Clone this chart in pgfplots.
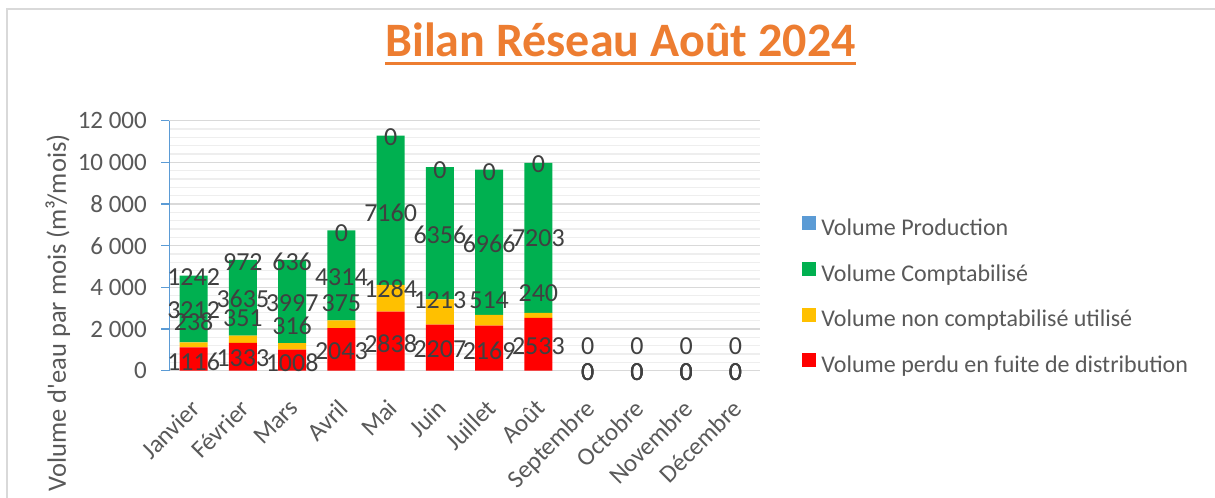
\documentclass[border=0pt]{standalone}
\usepackage{fontspec}
\setmainfont{Carlito}
\usepackage{pgfplots}
\usepackage{pgfplotstable}
\pgfplotsset{compat=1.18}
\definecolor{cred}{HTML}{FF0000}
\definecolor{cyel}{HTML}{FFC000}
\definecolor{cgrn}{HTML}{00B050}
\definecolor{cblu}{HTML}{5B9BD5}
\definecolor{txt}{HTML}{595959}
\definecolor{lbl}{HTML}{404040}
\definecolor{gmaj}{HTML}{D9D9D9}
\definecolor{gmin}{HTML}{EEEEEE}
\definecolor{ttl}{HTML}{ED7D31}

\pgfplotstableread{
x red yel grn
0 1116 238 3212
1 1333 351 3635
2 1008 316 3997
3 2043 375 4314
4 2838 1284 7160
5 2207 1213 6356
6 2169 514 6966
7 2533 240 7203
8 0 0 0
9 0 0 0
10 0 0 0
11 0 0 0
}\bars

\pgfplotstableread{
x y lab
0 432 1116
0 2352 238
0 2913 3212
0 4512 1242
1 595 1333
1 2515 351
1 3427 3635
1 5233 972
2 384 1008
2 2146 316
2 3235 3997
2 5233 636
3 960 2043
3 3264 375
3 4512 4314
3 6625 0
4 1281 2838
4 3955 1284
4 7584 7160
4 11200 0
5 1027 2207
5 3393 1213
5 6513 6356
5 9633 0
6 960 2169
6 3393 514
6 6081 6966
6 9553 0
7 1185 2533
7 3745 240
7 6355 7203
7 9923 0
8 1185 0
8 -50 0
8 -50 0
8 -50 0
9 1185 0
9 -50 0
9 -50 0
9 -50 0
10 1185 0
10 -50 0
10 -50 0
10 -50 0
11 1185 0
11 -50 0
11 -50 0
11 -50 0
}\labels

\newcommand\fs{\fontsize{25bp}{30bp}\selectfont}
\newcommand\fl{\fontsize{26bp}{30bp}\selectfont}
\newcommand\fg{\fontsize{24bp}{28bp}\selectfont}
\newcommand\ts{\kern0.226em}

\begin{document}
\begin{tikzpicture}
\useasboundingbox (0,0) rectangle (1215bp,498bp);
\fill[white] (0,0) rectangle (1215bp,498bp);
\draw[gmaj, line width=1.5bp] (7bp,0) -- (7bp,489bp) -- (1215bp,489bp);
\node[font=\fontsize{48bp}{56bp}\selectfont\bfseries, text=ttl, anchor=base, inner sep=0pt] (T) at (620.5bp,441.3bp) {Bilan Réseau Août 2024};
\draw[ttl, line width=3bp] ([yshift=-7bp]T.base west) -- ([yshift=-7bp]T.base east);

\begin{axis}[
  at={(169bp,127.3bp)}, anchor=south west,
  width=591bp, height=250bp, scale only axis,
  xmin=-0.5, xmax=11.5, ymin=0, ymax=12000,
  ybar stacked, bar width=28bp,
  scaled y ticks=false,
  xtick={0,...,11},
  xticklabels={Janvier,Février,Mars,Avril,Mai,Juin,Juillet,Août,Septembre,Octobre,Novembre,Décembre},
  ytick={0,2000,4000,6000,8000,10000,12000},
  yticklabels={0,2\ts000,4\ts000,6\ts000,8\ts000,10\ts000,12\ts000},
  minor ytick={400,800,1200,1600,2400,2800,3200,3600,4400,4800,5200,5600,6400,6800,7200,7600,8400,8800,9200,9600,10400,10800,11200,11600},
  ymajorgrids, yminorgrids,
  major grid style={gmaj, line width=1.5bp},
  minor grid style={gmin, line width=1.5bp},
  axis line style={draw=none},
  tick align=outside, ytick pos=left, xtick pos=bottom,
  major tick length=8bp, minor tick length=0pt,
  ytick style={cblu, line width=1.5bp},
  xtick style={draw=none},
  /pgf/number format/assume math mode=true,
  tick label style={font=\fs, text=txt},
  yticklabel style={anchor=east, inner sep=0pt, xshift=-14bp},
  xticklabel style={xshift=-4bp, yshift=-19bp, rotate=45, anchor=north east, inner sep=0pt},
  ylabel={Volume d\textquotesingle eau par mois (m³/mois)},
  ylabel style={font=\fontsize{26.5bp}{32bp}\selectfont, text=txt, at={(axis description cs:-0.188,0.231)}, anchor=center},
]
\addplot[fill=cred, draw=none] table[x=x, y=red]{\bars};
\addplot[fill=cyel, draw=none] table[x=x, y=yel]{\bars};
\addplot[fill=cgrn, draw=none] table[x=x, y=grn]{\bars};
\draw[cblu, line width=1.5bp] (rel axis cs:0,0) -- (rel axis cs:0,1);
\end{axis}

\begin{axis}[
  at={(169bp,127.3bp)}, anchor=south west,
  width=591bp, height=250bp, scale only axis,
  xmin=-0.5, xmax=11.5, ymin=0, ymax=12000,
  hide axis, clip=false,
  legend style={at={(axis description cs:1.071,0.618)}, anchor=north west, draw=none, fill=none,
    inner sep=0pt, outer sep=0pt, row sep=21.5bp, font=\fg, text=txt,
    nodes={inner sep=0pt, text height=17bp, text depth=5bp},
    /tikz/every odd column/.append style={column sep=6bp}},
  legend cell align=left,
]
\addplot[forget plot, draw=none, mark=none, nodes near coords, point meta=explicit symbolic,
  nodes near coords style={font=\fl, text=lbl, anchor=center, inner sep=0pt}]
  table[x=x, y=y, meta=lab]{\labels};
\addlegendimage{legend image code/.code={\fill[cblu] (0bp,0bp) rectangle (13bp,13bp);}}
\addlegendentry{Volume Production}
\addlegendimage{legend image code/.code={\fill[cgrn] (0bp,0bp) rectangle (13bp,13bp);}}
\addlegendentry{Volume Comptabilisé}
\addlegendimage{legend image code/.code={\fill[cyel] (0bp,0bp) rectangle (13bp,13bp);}}
\addlegendentry{Volume non comptabilisé utilisé}
\addlegendimage{legend image code/.code={\fill[cred] (0bp,0bp) rectangle (13bp,13bp);}}
\addlegendentry{Volume perdu en fuite de distribution}
\end{axis}
\end{tikzpicture}
\end{document}
